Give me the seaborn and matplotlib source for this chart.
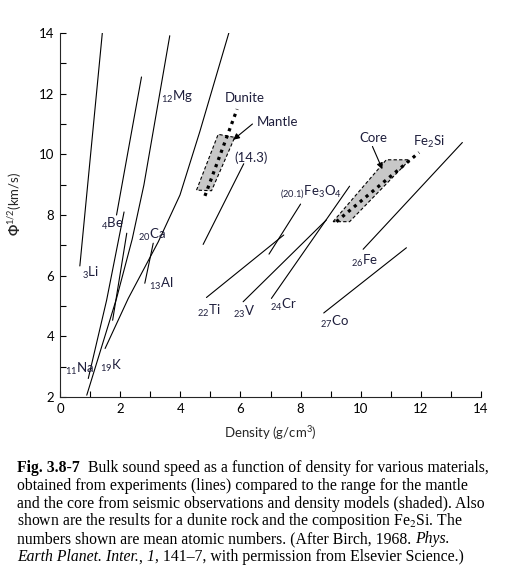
import matplotlib
matplotlib.use("Agg")
import matplotlib.pyplot as plt
import matplotlib.text as mtext
import numpy as np
import pandas as pd
import seaborn as sns

# Curvas (densidad g/cm3, Phi^1/2 km/s)
li_x, li_y = [0.66, 1.41], [6.32, 14.03]
be_x, be_y = [1.88, 2.71], [8.0, 12.55]
na_x, na_y = [0.94, 1.55, 2.13], [2.61, 5.19, 8.1]
mg_x, mg_y = [1.75, 2.22], [4.53, 7.40]
k_x, k_y = [0.89, 1.88, 2.40, 2.79, 3.65], [2.06, 5.25, 7.2, 8.99, 13.91]
ca_x, ca_y = [1.50, 2.27, 3.27, 3.99, 4.65, 5.62], [3.60, 5.25, 7.12, 8.66, 10.75, 14.02]
al_x, al_y = [2.82, 3.10], [5.75, 7.07]
z143_x, z143_y = [4.76, 6.11], [7.03, 9.69]
fe3o4_x, fe3o4_y = [6.95, 8.0], [6.71, 8.36]
ti_x, ti_y = [4.87, 7.44], [5.28, 7.34]
v_x, v_y = [6.09, 8.86], [5.14, 7.84]
cr_x, cr_y = [7.03, 9.63], [5.25, 8.95]
fe_x, fe_y = [10.08, 13.38], [6.87, 10.39]
co_x, co_y = [8.77, 11.52], [4.77, 6.92]

curvas = {
    "Li": (li_x, li_y), "Be": (be_x, be_y), "Na": (na_x, na_y), "Mg": (mg_x, mg_y),
    "K": (k_x, k_y), "Ca": (ca_x, ca_y), "Al": (al_x, al_y), "14.3": (z143_x, z143_y),
    "Fe3O4": (fe3o4_x, fe3o4_y), "Ti": (ti_x, ti_y), "V": (v_x, v_y), "Cr": (cr_x, cr_y),
    "Fe": (fe_x, fe_y), "Co": (co_x, co_y),
}

# Dunita y Fe2Si (punteadas)
dunita_x, dunita_y = [4.82, 5.89], [8.63, 11.49]
fe2si_x, fe2si_y = [9.19, 11.94], [7.78, 10.06]

# Rangos sombreados manto y nucleo
manto_x, manto_y = [4.54, 5.26, 5.81, 5.04], [8.82, 10.66, 10.56, 8.80]
nucleo_x, nucleo_y = [9.08, 10.85, 11.63, 9.63], [7.78, 9.82, 9.82, 7.78]

etiquetas = [
    (r"$_{3}$Li", 0.72, 6.09), (r"$_{4}$Be", 1.35, 7.72), (r"$_{20}$Ca", 2.58, 7.35),
    (r"$_{13}$Al", 2.97, 5.73), (r"$_{11}$Na", 0.17, 2.93), (r"$_{19}$K", 1.33, 3.04),
    (r"$_{12}$Mg", 3.36, 11.88), (r"$_{22}$Ti", 4.54, 4.85), (r"$_{23}$V", 5.76, 4.80),
    (r"$_{24}$Cr", 7.0, 5.02), (r"$_{(20.1)}$Fe$_3$O$_4$", 7.31, 8.75),
    (r"$_{26}$Fe", 9.69, 6.50), (r"$_{27}$Co", 8.66, 4.47),
    ("Dunite", 5.48, 11.85), ("Mantle", 6.53, 11.05), ("(14.3)", 5.81, 9.9),
    ("Core", 9.97, 10.54), (r"Fe$_2$Si", 11.74, 10.4),
]

sns.set_style("ticks")
plt.rcParams["font.family"] = ["Lato", "DejaVu Sans"]
plt.rcParams["mathtext.fontset"] = "custom"
plt.rcParams["mathtext.rm"] = "Lato"
plt.rcParams["mathtext.it"] = "Lato:italic"
plt.rcParams["mathtext.bf"] = "Lato:bold"

color_txt = "#1e1e3c"

filas = []
for nombre, (xs, ys) in curvas.items():
    for x, y in zip(xs, ys):
        filas.append({"material": nombre, "densidad": x, "phi": y})
df = pd.DataFrame(filas)

fig = plt.figure(figsize=(5.07, 5.88), dpi=100)
ax = fig.add_axes([60 / 507, 1 - 397 / 588, 421 / 507, 364 / 588])

sns.lineplot(data=df, x="densidad", y="phi", units="material", estimator=None,
             sort=False, color="black", lw=0.8, ax=ax)

ax.fill(manto_x, manto_y, facecolor="#c8c8c8", edgecolor="black", lw=0.8,
        linestyle=(0, (3, 2)), zorder=1)
ax.fill(nucleo_x, nucleo_y, facecolor="#c8c8c8", edgecolor="black", lw=0.8,
        linestyle=(0, (3, 2)), zorder=1)

ax.plot(dunita_x, dunita_y, color="black", lw=2.3, linestyle=(0, (1, 1.4)), zorder=3)
ax.plot(fe2si_x, fe2si_y, color="black", lw=2.3, linestyle=(0, (1, 1.4)), zorder=3)

ax.annotate("", xy=(5.76, 10.48), xytext=(6.40, 11.0),
            arrowprops=dict(arrowstyle="-|>", color="black", lw=0.8,
                            mutation_scale=9, shrinkA=0, shrinkB=0))
ax.annotate("", xy=(10.72, 9.51), xytext=(10.39, 10.26),
            arrowprops=dict(arrowstyle="-|>", color="black", lw=0.8,
                            mutation_scale=9, shrinkA=0, shrinkB=0))

for texto, x, y in etiquetas:
    ax.text(x, y, texto, ha="left", va="center", fontsize=9.5, color=color_txt)

ax.set_xlim(0, 14)
ax.set_ylim(2, 14)
ax.set_xticks(np.arange(0, 15, 2))
ax.set_yticks(np.arange(2, 15, 2))
ax.set_xticks(np.arange(0, 15, 1), minor=True)
ax.set_yticks(np.arange(2, 15, 1), minor=True)
ax.tick_params(which="both", direction="in", length=4, width=0.8, labelsize=9.5,
               colors="black", pad=4)
for s in ["left", "bottom"]:
    ax.spines[s].set_linewidth(0.8)
sns.despine(ax=ax)

ax.set_xlabel(r"Density (g/cm$^3$)", fontsize=9.5)
ax.set_ylabel(r"$\mathbf{\Phi}^{1/2}$(km/s)", fontsize=9.5)
ax.xaxis.set_label_coords(0.5, -0.075)
ax.yaxis.set_label_coords(-0.085, 0.53)

# Pie de figura
serif = "Liberation Serif"
fs = 11.3
x0 = 17 / 507
base = [471.7 + 17.9 * i for i in range(6)]


def cadena(piezas, py):
    prev = None
    for texto, estilo in piezas:
        kw = dict(fontsize=fs, family=serif, color="black", math_fontfamily="stix")
        if estilo == "b":
            kw["fontweight"] = "bold"
        elif estilo == "i":
            kw["fontstyle"] = "italic"
        if prev is None:
            prev = fig.text(x0, 1 - py / 588, texto, ha="left", va="baseline", **kw)
        else:
            prev = fig.add_artist(mtext.Annotation(
                texto, xy=(1, 0), xycoords=prev, ha="left", va="bottom", **kw))
    return prev


cadena([("Fig. 3.8-7", "b"),
        ("  Bulk sound speed as a function of density for various materials,", "")], base[0])
cadena([("obtained from experiments (lines) compared to the range for the mantle", "")], base[1])
cadena([("and the core from seismic observations and density models (shaded). Also", "")], base[2])
cadena([(r"shown are the results for a dunite rock and the composition Fe$_2$Si. The", "")], base[3])
cadena([("numbers shown are mean atomic numbers. (After Birch, 1968. ", ""),
        ("Phys.", "i")], base[4])
cadena([("Earth Planet. Inter.", "i"), (", ", ""), ("1", "i"),
        (", 141\u20137, with permission from Elsevier Science.)", "")], base[5])

fig.savefig("out.png", dpi=100)
